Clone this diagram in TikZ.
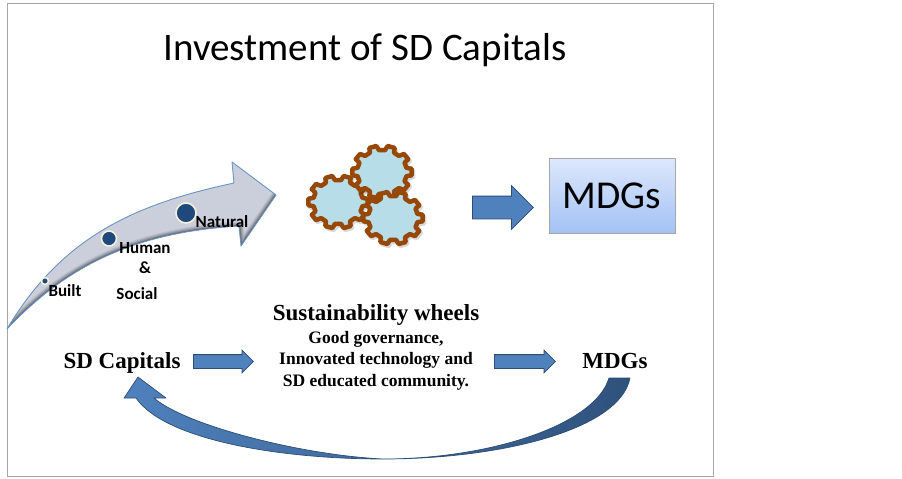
\documentclass[tikz,border=0pt]{standalone}
\usepackage{fontspec}
\setmainfont{Carlito}
\newfontfamily\serifbold[BoldFont={Liberation Serif Bold}]{Liberation Serif}
\usetikzlibrary{shapes.arrows}
\definecolor{framegray}{HTML}{A6A6A6}
\definecolor{arrowblue}{HTML}{4F81BD}
\definecolor{arrowedge}{HTML}{2C4D75}
\definecolor{swoopfill}{HTML}{CBCFDB}
\definecolor{swoopedge}{HTML}{6C94C4}
\definecolor{dotblue}{HTML}{1F497D}
\definecolor{dotring}{HTML}{F3F0DC}
\definecolor{gearblue}{HTML}{B7DDE8}
\definecolor{gearbrown}{HTML}{974806}
\definecolor{boxtop}{HTML}{DCE8FC}
\definecolor{boxbottom}{HTML}{A3C1F4}
\tikzset{
    blockarrow/.style={single arrow,draw=arrowedge,fill=arrowblue,line width=0.8pt,
        shape border rotate=0,anchor=tail,single arrow tip angle=90,minimum size=0pt},
    bigarrow/.style={blockarrow,inner ysep=11pt,inner xsep=0pt,single arrow head extend=10.5pt},
    smallarrow/.style={blockarrow,inner ysep=6.5pt,inner xsep=0pt,single arrow head extend=4.5pt},
    label/.style={font=\fontsize{17}{17}\selectfont\bfseries,inner sep=0pt},
    sdtext/.style={font=\serifbold\fontsize{17.5}{17.5}\selectfont\bfseries,inner sep=0pt},
    sdbig/.style={font=\serifbold\fontsize{23}{23}\selectfont\bfseries,inner sep=0pt},
    gearline/.style={draw=gearbrown,fill=gearblue,line width=4.5pt,line join=round},
    gearshadow/.style={draw=black,fill=black,opacity=0.15,line width=4.5pt,line join=round},
    dot/.style={circle,fill=dotblue,draw=dotring,line width=1.6pt,inner sep=0pt},
}
\newcommand{\cogwheel}[3]{
    \draw[gearshadow,shift={(#1+1.5,#2+2)},xscale=1.13]
        (-11:#3)
        \foreach \a in {0,36,...,324} {
            -- (\a-11:#3) -- (\a-7:#3+4.5) -- (\a+7:#3+4.5) -- (\a+11:#3)
        } -- cycle;
    \draw[gearline,shift={(#1,#2)},xscale=1.13]
        (-11:#3)
        \foreach \a in {0,36,...,324} {
            -- (\a-11:#3) -- (\a-7:#3+4.5) -- (\a+7:#3+4.5) -- (\a+11:#3)
        } -- cycle;
}
\begin{document}
\begin{tikzpicture}[x=1pt,y=-1pt]
    \useasboundingbox (0,0) rectangle (902,479);
    \draw[framegray,line width=1pt] (7,3) rectangle (713,476);
    \node[inner sep=0pt,font=\fontsize{39}{39}\selectfont] (title) at (365,50) {Investment of SD Capitals};
    % swoosh
    \begin{scope}
        \path[clip] (7,329) .. controls (60,240) and (130,205) .. (234,183) -- (232,162) -- (276,195)
            -- (241,246) -- (239,226) .. controls (140,232) and (70,262) .. (7,329) -- cycle;
        \fill[swoopfill] (0,150) rectangle (290,340);
        \foreach \w/\o in {9/0.07,7/0.09,5/0.12,3/0.16,1.5/0.25}
            \draw[black,opacity=\o,line width=\w pt] (7,329) .. controls (70,262) and (140,232) .. (239,226)
                -- (241,246) -- (276,195);
    \end{scope}
    \draw[swoopedge,line width=0.9pt,line join=round] (7,329) .. controls (60,240) and (130,205) .. (234,183)
        -- (232,162) -- (276,195) -- (241,246) -- (239,226) .. controls (140,232) and (70,262) .. (7,329) -- cycle;
    \node[dot,minimum size=7pt] (built) at (45,281) {};
    \node[dot,minimum size=15pt] (human) at (109,238.5) {};
    \node[dot,minimum size=20pt] (natural) at (186,213) {};
    \node[label] (builttext) at (65,291) {Built};
    \node[label] (humantext) at (145,248) {Human};
    \node[label] (andtext) at (145,268) {\&};
    \node[label] (socialtext) at (137,294) {Social};
    \node[label] (naturaltext) at (222,222) {Natural};
    % wheels
    \cogwheel{338}{202}{22}
    \cogwheel{382}{172}{22}
    \cogwheel{393}{218}{22}
    \node[bigarrow,minimum height=61pt] (mainarrow) at (472,207.5) {};
    \node[draw=gray!70,inner sep=0pt,minimum width=126pt,minimum height=75pt,
        top color=boxtop,bottom color=boxbottom,
        font=\fontsize{39.5}{39.5}\selectfont] (mdgsbox) at (612,196) {MDGs};
    % lower row
    \node[sdbig] (capitals) at (122,363) {SD Capitals};
    \node[sdbig] (wheels) at (376,315) {Sustainability wheels};
    \node[sdtext] (good) at (376,339) {Good governance,};
    \node[sdtext] (innovated) at (376,360) {Innovated technology and};
    \node[sdtext] (educated) at (376,382) {SD educated community.};
    \node[sdbig] (mdgs) at (615,361) {MDGs};
    \node[smallarrow,minimum height=60pt] (arrowone) at (193,361.5) {};
    \node[smallarrow,minimum height=61pt] (arrowtwo) at (494,361.5) {};
    % return arrow
    \shade[left color=arrowblue,middle color=arrowedge,right color=arrowedge!90!arrowblue,draw=arrowedge,line width=0.7pt,line join=round]
        (609,378) .. controls (595,425) and (490,459) .. (383,459)
        .. controls (300,455) and (185,425) .. (154,398) -- (166,398) -- (138,377) -- (124,398) -- (136,398)
        .. controls (165,440) and (280,459) .. (383,459)
        .. controls (500,459) and (620,430) .. (630,378) -- cycle;
\end{tikzpicture}
\end{document}
